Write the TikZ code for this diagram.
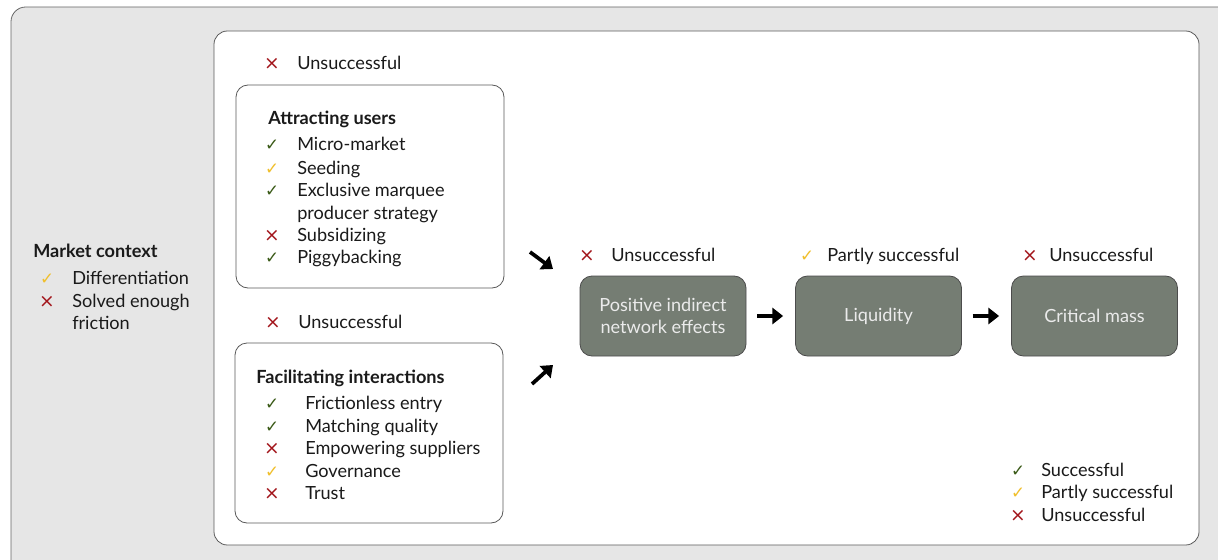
\documentclass[tikz,border=0pt]{standalone}
\usepackage{fontspec}
\setmainfont{Lato}
\newfontfamily\markfont{DejaVu Sans}
\usetikzlibrary{arrows.meta,positioning}

\definecolor{okgreen}{HTML}{3A5A17}
\definecolor{partyellow}{HTML}{F0BF2C}
\definecolor{failred}{HTML}{A3161C}
\definecolor{stagegray}{HTML}{757D73}
\definecolor{framegray}{HTML}{E6E6E6}
\definecolor{inkblack}{HTML}{1A1A1A}

\newcommand{\yesmark}{\textcolor{okgreen}{\markfont\fontsize{12.5}{12.5}\selectfont ✓}}
\newcommand{\partmark}{\textcolor{partyellow}{\markfont\fontsize{12.5}{12.5}\selectfont ✓}}
\newcommand{\nomark}{\textcolor{failred}{\markfont\fontsize{14}{14}\selectfont ×}}

\tikzset{
  txt/.style={anchor=base west,inner sep=0pt,text=inkblack,
    font=\fontsize{13.6}{16.9}\selectfont},
  head/.style={txt,font=\fontsize{13.6}{16.9}\selectfont\bfseries},
  mk/.style={anchor=base,inner sep=0pt},
  panel/.style={draw=black!65,fill=white,rounded corners=9pt,line width=0.6pt},
  stage/.style={draw=black!70,fill=stagegray,rounded corners=9pt,line width=0.6pt,
    text=white!92!black,align=center,minimum width=166*0.75pt,
    minimum height=80*0.75pt,font=\fontsize{13.6}{16.9}\selectfont},
  flow/.style={line width=2.8pt,-{Triangle[length=8pt,width=12pt]}},
}

\begin{document}
\begin{tikzpicture}[x=0.75pt,y=-0.75pt]
\useasboundingbox (0,0) rectangle (1218,560);
% grey frame and white panel
\draw[draw=black!60,fill=framegray,rounded corners=11pt,line width=0.6pt] (11,7) rectangle (1250,590);
\node[panel,rounded corners=10pt,minimum width=985*0.75pt,minimum height=514*0.75pt] (main) at (706.5,288) {};

% market context
\node[head] (mc) at (33,257) {Market context};
\node[mk] (mc-m1) at (47,284) {\partmark};
\node[txt] (mc-1) at (72,284) {Differentiation};
\node[mk] (mc-m2) at (47,307) {\nomark};
\node[txt] (mc-2) at (72,307) {Solved enough};
\node[txt] (mc-3) at (72,329) {friction};

% attracting users
\node[mk] (au-m) at (272,70) {\nomark};
\node[txt] (au-st) at (297,70) {Unsuccessful};
\node[panel,minimum width=268*0.75pt,minimum height=203*0.75pt] (attract) at (370,186.5) {};
\node[head] (au-h) at (268,125) {Attracting users};
\foreach \m/\t/\yy [count=\i] in {\yesmark/Micro-market/151,\partmark/Seeding/174,
    \yesmark/Exclusive marquee/196,{}/producer strategy/219,\nomark/Subsidizing/241,
    \yesmark/Piggybacking/263}{
  \node[mk] (au-m\i) at (272,\yy) {\m};
  \node[txt] (au-\i) at (297,\yy) {\t};
}

% facilitating interactions
\node[mk] (fi-m) at (273,328) {\nomark};
\node[txt] (fi-st) at (298,328) {Unsuccessful};
\node[panel,minimum width=268*0.75pt,minimum height=180*0.75pt] (facil) at (369,433) {};
\node[head] (fi-h) at (256,383) {Facilitating interactions};
\foreach \m/\t/\yy [count=\i] in {\yesmark/Frictionless entry/409,\yesmark/Matching quality/432,
    \nomark/Empowering suppliers/454,\partmark/Governance/477,\nomark/Trust/499}{
  \node[mk] (fi-m\i) at (272,\yy) {\m};
  \node[txt] (fi-\i) at (305,\yy) {\t};
}

% stages
\node[stage] (pine) at (663,316) {Positive indirect\\network effects};
\node[stage] (liq) at (878.5,316) {Liquidity};
\node[stage] (crit) at (1094.5,316) {Critical mass};

\node[mk] (pine-m) at (587,261) {\nomark};
\node[txt] (pine-st) at (611,261) {Unsuccessful};
\node[mk] (liq-m) at (807,261) {\partmark};
\node[txt] (liq-st) at (827,261) {Partly successful};
\node[mk] (crit-m) at (1030,261) {\nomark};
\node[txt] (crit-st) at (1049,261) {Unsuccessful};

\draw[flow,shorten <=8pt,shorten >=9pt] (pine) -- (liq);
\draw[flow,shorten <=8pt,shorten >=9pt] (liq) -- (crit);

\coordinate (up-a) at (530,252);
\coordinate (up-b) at (553,269);
\coordinate (lo-a) at (532,384);
\coordinate (lo-b) at (553,365);
\draw[flow] (up-a) -- (up-b);
\draw[flow] (lo-a) -- (lo-b);

% legend
\node[mk] (lg-m1) at (1018,476) {\yesmark};
\node[txt] (lg-1) at (1041,476) {Successful};
\node[mk] (lg-m2) at (1018,498) {\partmark};
\node[txt] (lg-2) at (1041,498) {Partly successful};
\node[mk] (lg-m3) at (1018,521) {\nomark};
\node[txt] (lg-3) at (1041,521) {Unsuccessful};
\end{tikzpicture}
\end{document}
